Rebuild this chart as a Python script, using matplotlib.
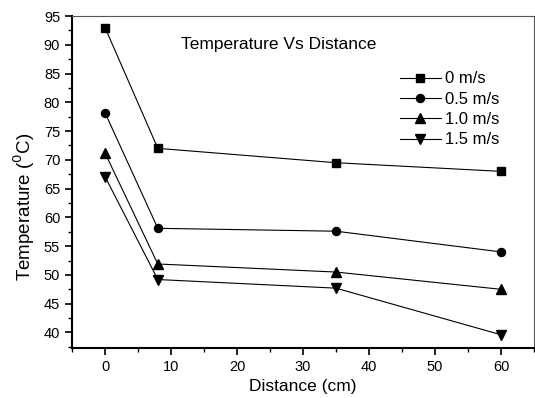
import matplotlib
matplotlib.use("Agg")
import matplotlib.pyplot as plt
from matplotlib.ticker import MultipleLocator

plt.rcParams['font.family'] = ['Liberation Sans', 'DejaVu Sans']

# distance in cm
distance = [0, 8, 35, 60]

# temperature for each air speed
temp_0 = [93.0, 72.0, 69.5, 68.0]
temp_05 = [78.2, 58.1, 57.6, 54.0]
temp_10 = [71.2, 51.9, 50.5, 47.5]
temp_15 = [67.1, 49.2, 47.7, 39.6]

labels = ['0 m/s', '0.5 m/s', '1.0 m/s', '1.5 m/s']
markers = ['s', 'o', '^', 'v']
msizes = [5.6, 5.8, 7, 7]

fig = plt.figure(figsize=(5.35, 3.98), dpi=100)
ax = fig.add_axes([72 / 535, 1 - 348 / 398, 462 / 535, 332 / 398])

for temps, lab, mk, ms in zip([temp_0, temp_05, temp_10, temp_15], labels, markers, msizes):
    ax.plot(distance, temps, color='black', linewidth=0.8, marker=mk,
            markersize=ms, label=lab)

ax.set_xlim(-5, 65)
ax.set_ylim(37.3, 95)
ax.xaxis.set_major_locator(MultipleLocator(10))
ax.xaxis.set_minor_locator(MultipleLocator(5))
ax.yaxis.set_major_locator(MultipleLocator(5))
ax.yaxis.set_minor_locator(MultipleLocator(2.5))
ax.tick_params(which='major', direction='out', length=5, width=1.2,
               labelsize=10.5, top=False, right=False)
ax.tick_params(which='minor', direction='out', length=3, width=1.0,
               top=False, right=False)

ax.spines['left'].set_linewidth(1.5)
ax.spines['bottom'].set_linewidth(1.5)
ax.spines['top'].set_linewidth(0.8)
ax.spines['right'].set_linewidth(0.8)
ax.spines['top'].set_color('#555555')
ax.spines['right'].set_color('#555555')

ax.set_xlabel('Distance (cm)', fontsize=12.5, labelpad=4)
ax.set_ylabel('Temperature ($^0$C)', fontsize=13.5, labelpad=5, y=0.425)

ax.text(0.235, 0.915, 'Temperature Vs Distance', transform=ax.transAxes,
        fontsize=12.5, va='center')

ax.legend(loc='upper right', bbox_to_anchor=(0.924, 0.833), frameon=False,
          numpoints=1, fontsize=12, handlelength=2.5, handletextpad=0.2,
          labelspacing=0.32, borderaxespad=0.0, borderpad=0.0)

fig.savefig('out.png', dpi=100)
